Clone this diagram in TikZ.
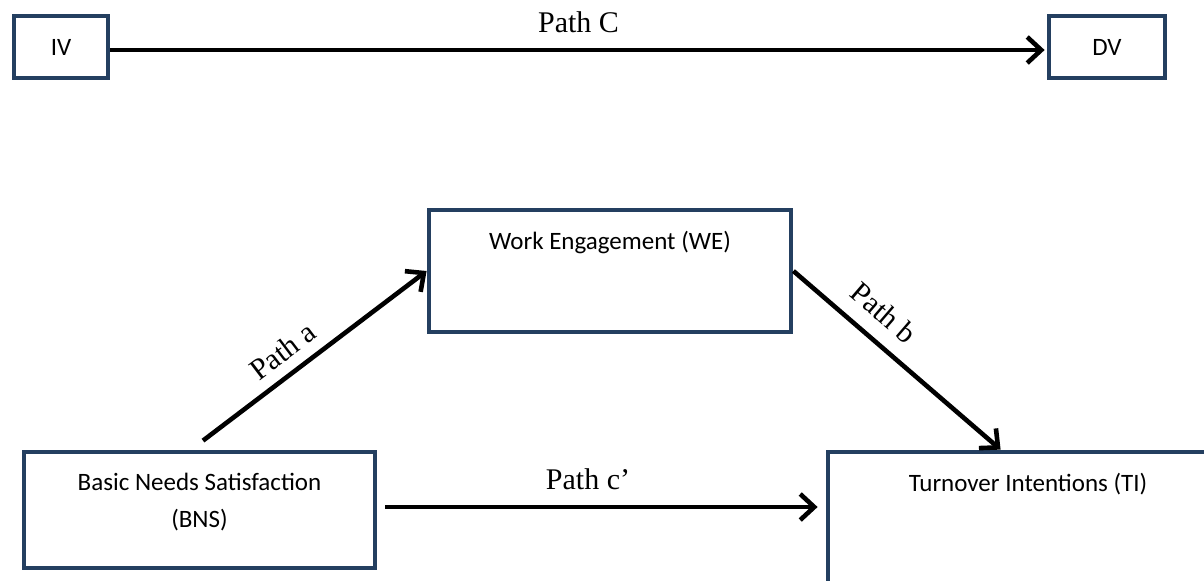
\documentclass[tikz,border=0pt]{standalone}
\usepackage{fontspec}
\setmainfont{Liberation Serif}
\newfontfamily\boxfont{Carlito}
\usetikzlibrary{arrows.meta,positioning}
\definecolor{boxblue}{RGB}{36,63,96}

\begin{document}
\begin{tikzpicture}[x=0.5pt,y=-0.5pt,
  varbox/.style={draw=boxblue,line width=2.4pt,fill=white,inner sep=0pt,font=\boxfont\fontsize{12.5}{18.5}\selectfont},
  boxtext/.style={anchor=north,inner sep=0pt,align=center,font=\boxfont\fontsize{12.5}{18.5}\selectfont},
  pathline/.style={line width=2.3pt,-{Straight Barb[length=7pt,width=13pt]}},
  pathlbl/.style={font=\fontsize{15}{18}\selectfont,above=4pt,sloped}]
\useasboundingbox (0,0) rectangle (1204,580);
\clip (0,0) rectangle (1204,580);

\node[varbox,minimum width=47pt,minimum height=31pt] (iv) at (61,47) {IV};
\node[varbox,minimum width=58pt,minimum height=31pt] (dv) at (1107,47) {DV};
\node[varbox,minimum width=181pt,minimum height=61pt] (we) at (610,271) {};
\node[varbox,minimum width=175.5pt,minimum height=58pt] (bns) at (199.5,510) {};
\node[varbox,minimum width=200pt,minimum height=70pt] (ti) at (1028,522) {};

\node[boxtext] (wetxt) at ([yshift=-11.5pt]we.north) {Work Engagement (WE)};
\node[boxtext] (bnstxt) at ([yshift=-11.5pt]bns.north) {Basic Needs Satisfaction\\(BNS)};
\node[boxtext] (titxt) at ([yshift=-11.5pt]ti.north) {Turnover Intentions (TI)};

\draw[pathline,shorten >=1pt] ([yshift=-1.5pt]iv.east) -- ([yshift=-1.5pt]dv.west)
  node[midway,pathlbl] (lblC) {Path C};
\draw[pathline] ([xshift=1.75pt,yshift=4.5pt]bns.north) -- (we.west)
  node[pos=0.42,pathlbl,above=2pt] (lbla) {Path a};
\draw[pathline] (we.east) -- ([xshift=87.5pt]ti.north west)
  node[pos=0.35,pathlbl] (lblb) {Path b};
\draw[pathline,shorten <=4pt,shorten >=4pt] ([yshift=1.5pt]bns.east) -- ([yshift=1.5pt]bns.east -| ti.west)
  node[pos=0.47,pathlbl] (lblc) {Path c’};
\end{tikzpicture}
\end{document}
